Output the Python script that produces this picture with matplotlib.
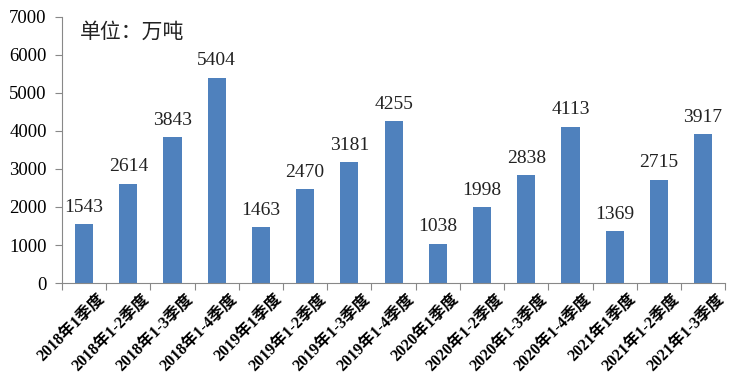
import matplotlib
matplotlib.use("Agg")
import matplotlib.pyplot as plt
import numpy as np

categories = ["2018年1季度", "2018年1-2季度", "2018年1-3季度", "2018年1-4季度",
              "2019年1季度", "2019年1-2季度", "2019年1-3季度", "2019年1-4季度",
              "2020年1季度", "2020年1-2季度", "2020年1-3季度", "2020年1-4季度",
              "2021年1季度", "2021年1-2季度", "2021年1-3季度"]
values = [1543, 2614, 3843, 5404, 1463, 2470, 3181, 4255,
          1038, 1998, 2838, 4113, 1369, 2715, 3917]
yticks = [0, 1000, 2000, 3000, 4000, 5000, 6000, 7000]
unit_text = "单位：万吨"

plt.rcParams['font.family'] = ['Liberation Serif', 'Noto Sans CJK SC', 'DejaVu Sans']

fig = plt.figure(figsize=(7.32, 3.83), dpi=100)
ax = fig.add_axes([0.0847, 0.261, 0.906, 0.695])

x = np.arange(len(categories))
ax.bar(x, values, width=0.41, color="#4F81BD", zorder=2)
for xi, v in zip(x, values):
    ax.text(xi, v + 220, str(v), ha="center", va="bottom", fontsize=14, color="#222222")

ax.set_xlim(-0.5, len(categories) - 0.5)
ax.set_ylim(0, 7000)
ax.set_yticks(yticks)
ax.set_yticklabels([str(t) for t in yticks], fontsize=13.5)
ax.set_xticks(np.arange(len(categories) + 1) - 0.5)
ax.set_xticklabels([])
ax.tick_params(axis="x", direction="out", length=5, color="#888888")
ax.tick_params(axis="y", direction="out", length=5, color="#888888", pad=6)

for xi, c in zip(x, categories):
    ax.text(xi + 0.3, -220, c, rotation=45, ha="right", va="top",
            rotation_mode="anchor", fontsize=11.5, fontweight="bold",
            transform=ax.transData, clip_on=False)

for s in ["top", "right"]:
    ax.spines[s].set_visible(False)
ax.spines["left"].set_color("#888888")
ax.spines["bottom"].set_color("#888888")

ax.text(0.027, 0.975, unit_text, transform=ax.transAxes, fontsize=15,
        ha="left", va="top", color="#222222")

fig.savefig("out.png", dpi=100)
